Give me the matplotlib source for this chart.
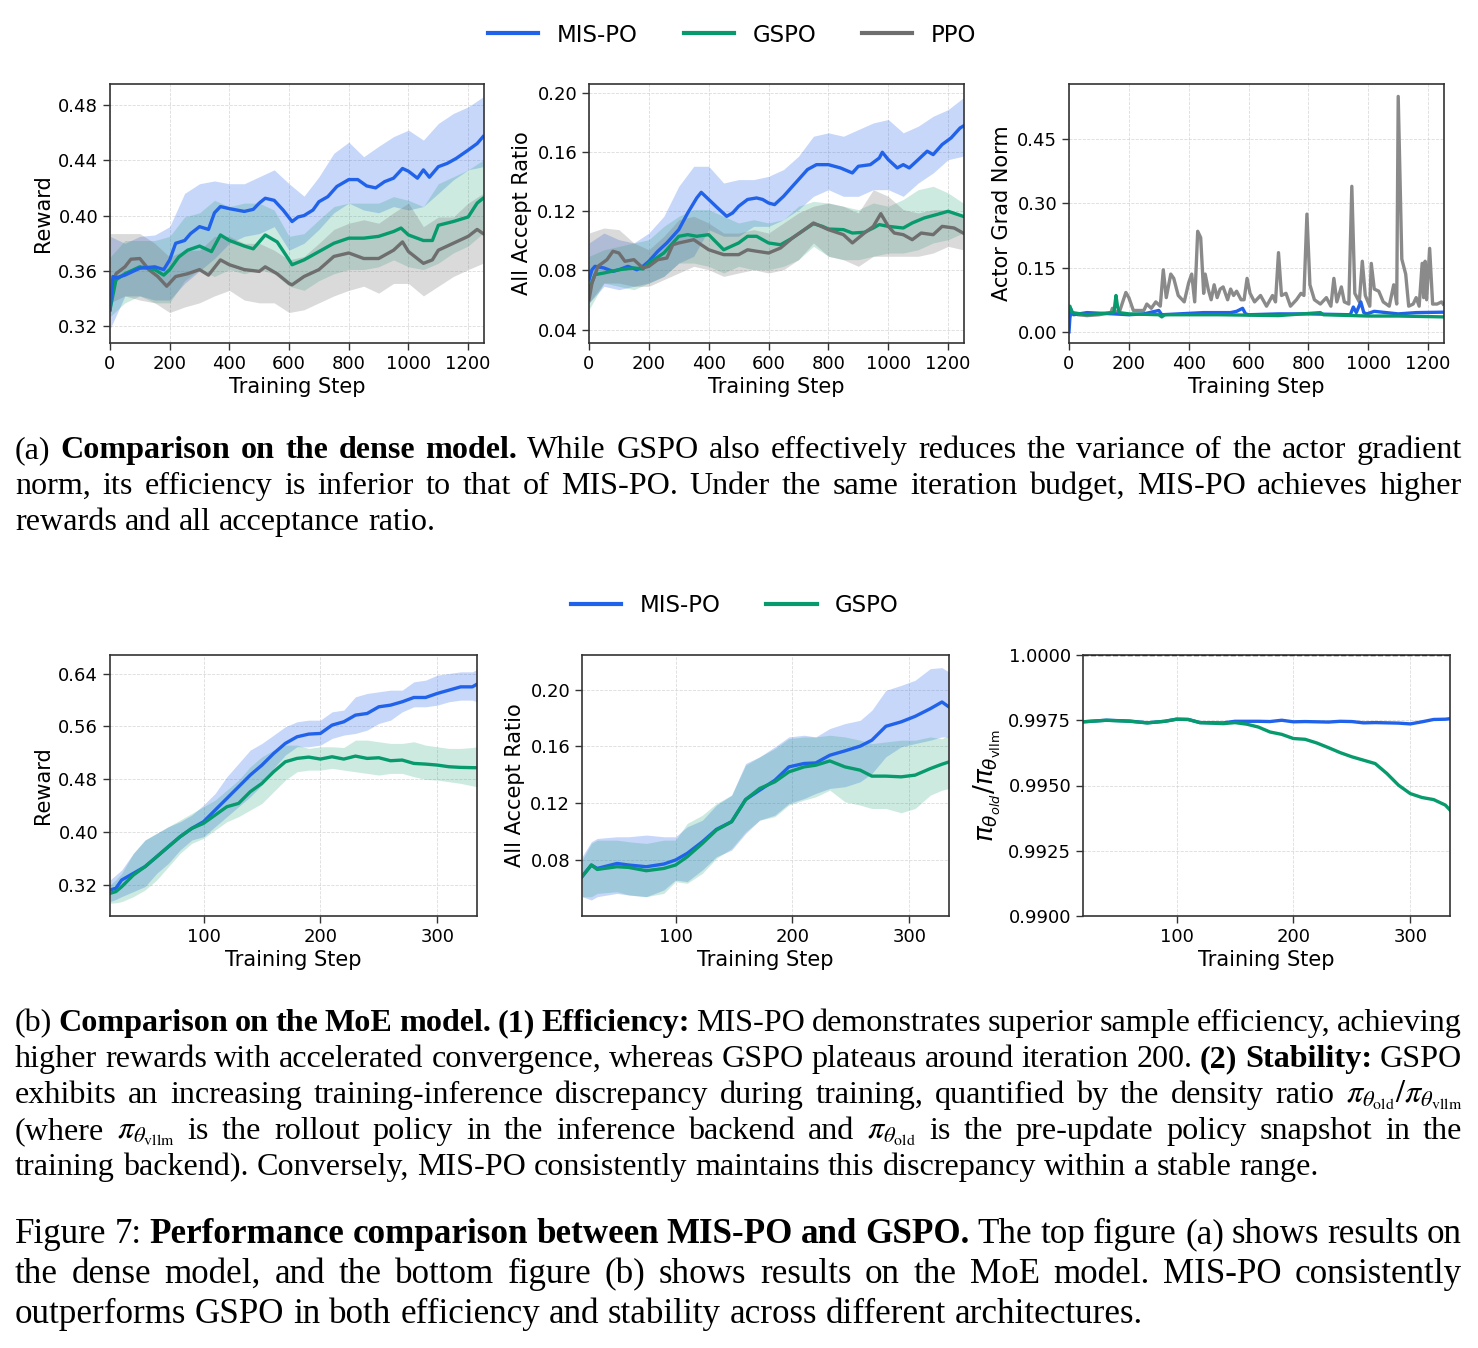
import matplotlib
matplotlib.use('Agg')
import matplotlib.pyplot as plt
from matplotlib.lines import Line2D
from matplotlib.transforms import IdentityTransform

W, H = 1478, 1348
BLUE = '#2162ea'
GREEN = '#079a6c'
GRAY = '#6e6e6e'
SERIF = 'Liberation Serif'

# ---------------- dense model: reward ----------------
band_x = [0, 50, 100, 150, 200, 250, 300, 350, 400, 450, 500, 550, 600, 650,
          700, 750, 800, 850, 900, 950, 1000, 1050, 1100, 1150, 1200, 1250]

rw_mis_x = [0, 10, 20, 50, 100, 150, 180, 200, 220, 250, 270, 300, 330, 350, 370, 400, 450, 480, 500, 520,
            550, 580, 610, 630, 650, 680, 700, 730, 760, 800, 830, 860, 890, 920, 950, 980, 1000, 1030, 1050, 1070,
            1100, 1130, 1160, 1200, 1230, 1250]
rw_mis = [0.332, 0.356, 0.355, 0.357, 0.362, 0.363, 0.361, 0.368, 0.380, 0.382, 0.387, 0.392, 0.390, 0.402, 0.4065,
          0.405, 0.403, 0.4045, 0.409, 0.4125, 0.411, 0.404, 0.3957, 0.399, 0.400, 0.404, 0.410, 0.4137, 0.421, 0.426,
          0.426, 0.4214, 0.420, 0.4245, 0.427, 0.434, 0.432, 0.427, 0.433, 0.4277, 0.4353, 0.4377, 0.4413, 0.4473,
          0.452, 0.457]
rw_mis_hi = [0.385, 0.380, 0.385, 0.386, 0.392, 0.416, 0.423, 0.425, 0.423, 0.423, 0.428, 0.433, 0.423, 0.414,
             0.428, 0.445, 0.453, 0.4425, 0.450, 0.457, 0.4617, 0.4545, 0.4665, 0.4737, 0.4785, 0.4857]
rw_mis_lo = [0.318, 0.342, 0.342, 0.339, 0.339, 0.351, 0.360, 0.369, 0.380, 0.385, 0.387, 0.392, 0.375, 0.380,
             0.390, 0.402, 0.409, 0.404, 0.402, 0.4065, 0.404, 0.4065, 0.416, 0.4257, 0.433, 0.4353]

rw_gspo_x = [0, 20, 50, 100, 150, 180, 200, 230, 260, 300, 340, 370, 400, 450, 480, 520, 560, 600, 610, 650,
             700, 750, 800, 850, 900, 950, 975, 1000, 1050, 1080, 1100, 1150, 1200, 1230, 1250]
rw_gspo = [0.332, 0.3536, 0.358, 0.363, 0.361, 0.357, 0.361, 0.370, 0.375, 0.378, 0.374, 0.386, 0.382, 0.378,
           0.376, 0.386, 0.381, 0.368, 0.3645, 0.368, 0.374, 0.380, 0.3837, 0.3837, 0.385, 0.3885, 0.391, 0.386,
           0.382, 0.382, 0.393, 0.3957, 0.399, 0.409, 0.4125]
rw_gspo_hi = [0.370, 0.382, 0.382, 0.382, 0.385, 0.399, 0.402, 0.411, 0.4065, 0.409, 0.409, 0.404, 0.385, 0.387,
              0.397, 0.4065, 0.409, 0.409, 0.409, 0.4137, 0.411, 0.4065, 0.423, 0.428, 0.433, 0.440]
rw_gspo_lo = [0.327, 0.337, 0.342, 0.337, 0.337, 0.353, 0.361, 0.356, 0.361, 0.358, 0.361, 0.358, 0.349, 0.346,
              0.353, 0.358, 0.361, 0.361, 0.363, 0.368, 0.363, 0.361, 0.3656, 0.373, 0.378, 0.3873]

rw_ppo_x = [0, 20, 50, 70, 100, 130, 160, 190, 220, 260, 300, 330, 370, 400, 450, 500, 520, 560, 600, 610,
            650, 700, 750, 800, 850, 900, 950, 980, 1000, 1050, 1080, 1100, 1150, 1200, 1230, 1250]
rw_ppo = [0.337, 0.358, 0.363, 0.3685, 0.369, 0.361, 0.356, 0.349, 0.356, 0.358, 0.361, 0.357, 0.368, 0.3645,
          0.361, 0.3597, 0.363, 0.358, 0.351, 0.350, 0.356, 0.361, 0.3705, 0.373, 0.369, 0.369, 0.375, 0.381,
          0.374, 0.3655, 0.368, 0.375, 0.380, 0.385, 0.390, 0.387]
rw_ppo_hi = [0.387, 0.387, 0.387, 0.380, 0.370, 0.375, 0.375, 0.385, 0.385, 0.380, 0.380, 0.375, 0.368, 0.3705,
             0.380, 0.390, 0.3945, 0.397, 0.3945, 0.402, 0.409, 0.392, 0.399, 0.399, 0.409, 0.416]
rw_ppo_lo = [0.337, 0.342, 0.339, 0.337, 0.330, 0.334, 0.337, 0.342, 0.346, 0.339, 0.337, 0.337, 0.330, 0.332,
             0.337, 0.342, 0.346, 0.349, 0.344, 0.351, 0.351, 0.342, 0.349, 0.356, 0.361, 0.3656]

# ---------------- dense model: all accept ratio ----------------
ar_mis_x = [0, 10, 20, 50, 80, 100, 130, 160, 180, 200, 230, 260, 300, 330, 360, 375, 400, 430, 460, 480,
            500, 530, 560, 580, 600, 620, 650, 680, 700, 730, 760, 800, 840, 880, 900, 940, 970, 980, 1000, 1030,
            1050, 1070, 1100, 1130, 1150, 1180, 1210, 1240, 1250]
ar_mis = [0.0738, 0.0805, 0.0828, 0.0817, 0.0794, 0.0805, 0.0828, 0.0805, 0.0828, 0.0862, 0.093, 0.0986, 0.1076,
          0.1189, 0.129, 0.1328, 0.128, 0.1222, 0.1166, 0.1189, 0.1234, 0.128, 0.129, 0.128, 0.1256, 0.1245,
          0.1301, 0.1369, 0.1414, 0.1482, 0.1515, 0.1515, 0.1493, 0.1459, 0.1504, 0.1515, 0.156, 0.1599, 0.1549,
          0.1493, 0.1515, 0.1493, 0.1549, 0.1606, 0.1583, 0.1651, 0.1696, 0.1763, 0.1775]
ar_mis_hi = [0.0986, 0.1053, 0.1008, 0.0986, 0.1053, 0.1166, 0.1369, 0.1504, 0.1504, 0.1391, 0.1414, 0.1414,
             0.1436, 0.1482, 0.1572, 0.1707, 0.173, 0.1707, 0.1752, 0.1797, 0.182, 0.173, 0.1775, 0.1842, 0.1887,
             0.1966]
ar_mis_lo = [0.058, 0.0693, 0.067, 0.0693, 0.0715, 0.076, 0.085, 0.0896, 0.1076, 0.1031, 0.1031, 0.1098, 0.1098,
             0.1143, 0.1211, 0.1301, 0.1346, 0.1301, 0.1301, 0.1346, 0.1346, 0.1301, 0.1391, 0.1459, 0.1549, 0.1572]

ar_gspo_x = [0, 20, 50, 100, 150, 180, 200, 250, 300, 330, 360, 400, 450, 500, 530, 560, 600, 640, 680, 720,
             750, 780, 800, 850, 880, 920, 950, 970, 1000, 1050, 1080, 1120, 1160, 1200, 1250]
ar_gspo = [0.067, 0.0772, 0.0783, 0.0805, 0.0817, 0.081, 0.085, 0.0918, 0.1031, 0.1042, 0.1031, 0.1042, 0.094,
           0.0986, 0.1031, 0.1031, 0.0986, 0.0974, 0.102, 0.1076, 0.1116, 0.1098, 0.108, 0.1076, 0.1053, 0.1058,
           0.1087, 0.111, 0.1098, 0.1087, 0.1121, 0.1155, 0.1177, 0.12, 0.1166]
ar_gspo_hi = [0.0896, 0.094, 0.0963, 0.0986, 0.1008, 0.1098, 0.1166, 0.1211, 0.1211, 0.1166, 0.1121, 0.1143,
              0.1121, 0.1143, 0.1234, 0.1267, 0.1256, 0.1234, 0.1211, 0.1256, 0.1234, 0.128, 0.1346, 0.1369,
              0.1324, 0.1256]
ar_gspo_lo = [0.0535, 0.0715, 0.0693, 0.067, 0.0715, 0.076, 0.085, 0.085, 0.0828, 0.0783, 0.0828, 0.0805, 0.0805,
              0.0828, 0.0873, 0.0963, 0.0896, 0.0873, 0.0873, 0.0896, 0.0918, 0.0918, 0.094, 0.0986, 0.1008, 0.1053]

ar_ppo_x = [0, 10, 30, 60, 80, 100, 120, 150, 180, 200, 230, 260, 280, 300, 350, 400, 450, 500, 530, 560,
            600, 640, 680, 720, 750, 800, 850, 880, 920, 950, 975, 1000, 1020, 1050, 1080, 1110, 1150, 1180,
            1220, 1250]
ar_ppo = [0.0603, 0.0715, 0.0828, 0.0873, 0.093, 0.0918, 0.0862, 0.0873, 0.0817, 0.0828, 0.0873, 0.0884, 0.0974,
          0.0986, 0.1008, 0.094, 0.0907, 0.0907, 0.094, 0.093, 0.0918, 0.0952, 0.102, 0.1076, 0.1121, 0.1076,
          0.1042, 0.0986, 0.1053, 0.1098, 0.1184, 0.1098, 0.1053, 0.1042, 0.1008, 0.1053, 0.1042, 0.1098, 0.1087,
          0.1053]
ar_ppo_hi = [0.1053, 0.1087, 0.1076, 0.0986, 0.094, 0.1031, 0.1143, 0.1166, 0.1121, 0.1053, 0.1053, 0.1076,
             0.1053, 0.1121, 0.1189, 0.1234, 0.1256, 0.1234, 0.1189, 0.1346, 0.1301, 0.1211, 0.1189, 0.1211,
             0.1211, 0.1166]
ar_ppo_lo = [0.058, 0.0715, 0.0715, 0.0693, 0.0693, 0.0738, 0.0783, 0.0828, 0.0805, 0.076, 0.0783, 0.0805,
             0.0783, 0.0805, 0.0873, 0.0986, 0.0896, 0.0873, 0.0828, 0.0896, 0.0896, 0.0896, 0.0896, 0.0918,
             0.0963, 0.094]

# ---------------- dense model: actor grad norm ----------------
gn_ppo_x = [3, 10, 30, 60, 100, 140, 145, 160, 170, 190, 200, 215, 250, 260, 275, 290, 305, 315, 325, 340,
            350, 365, 385, 400, 410, 420, 430, 440, 450, 455, 465, 475, 485, 495, 505, 515, 530, 540, 550, 560,
            575, 585, 595, 605, 620, 640, 660, 680, 690, 700, 710, 725, 740, 760, 775, 785, 795, 805, 820, 840,
            860, 875, 885, 895, 910, 920, 935, 945, 955, 970, 980, 990, 1005, 1010, 1020, 1035, 1050, 1070, 1085,
            1095, 1100, 1112, 1125, 1135, 1150, 1160, 1170, 1180, 1185, 1190, 1195, 1205, 1215, 1230, 1245, 1250]
gn_ppo = [0.036, 0.045, 0.04, 0.038, 0.04, 0.045, 0.055, 0.045, 0.05, 0.092,
          0.08, 0.05, 0.05, 0.065, 0.055, 0.07, 0.06, 0.145, 0.08, 0.135,
          0.125, 0.085, 0.07, 0.115, 0.135, 0.07, 0.235, 0.22, 0.09, 0.135,
          0.10, 0.075, 0.11, 0.08, 0.10, 0.105, 0.075, 0.10, 0.085, 0.095,
          0.075, 0.075, 0.125, 0.09, 0.07, 0.085, 0.06, 0.085, 0.07, 0.185,
          0.085, 0.09, 0.06, 0.075, 0.09, 0.085, 0.275, 0.11, 0.075, 0.065,
          0.08, 0.06, 0.125, 0.07, 0.105, 0.07, 0.065, 0.34, 0.09, 0.07,
          0.165, 0.085, 0.06, 0.16, 0.10, 0.095, 0.07, 0.06, 0.11, 0.065,
          0.55, 0.17, 0.135, 0.06, 0.065, 0.08, 0.06, 0.16, 0.08, 0.165,
          0.075, 0.195, 0.065, 0.065, 0.07, 0.065]
gn_mis_x = [0, 5, 15, 60, 150, 200, 250, 300, 310, 450, 540, 560, 580, 590, 600, 700, 800, 940, 950, 960,
            975, 985, 995, 1020, 1100, 1160, 1250]
gn_mis = [0.0, 0.055, 0.04, 0.045, 0.042, 0.04, 0.042, 0.05, 0.04, 0.045, 0.045, 0.048, 0.055, 0.042, 0.04,
          0.042, 0.042, 0.04, 0.058, 0.045, 0.07, 0.045, 0.042, 0.048, 0.042, 0.045, 0.046]
gn_gspo_x = [0, 3, 10, 60, 150, 157, 162, 168, 200, 300, 310, 320, 500, 700, 840, 850, 1000, 1100, 1250]
gn_gspo = [0.06, 0.06, 0.045, 0.04, 0.045, 0.085, 0.06, 0.045, 0.042, 0.04, 0.035, 0.04, 0.04, 0.038, 0.045,
           0.04, 0.037, 0.037, 0.035]

# ---------------- MoE model: reward ----------------
mr_x = [20, 25, 30, 40, 50, 60, 70, 80, 90, 100, 110, 120, 130, 140, 150, 160, 170, 180, 190, 200,
        210, 220, 230, 240, 250, 260, 270, 280, 290, 300, 310, 320, 330, 334]
mr_mis = [0.3124, 0.315, 0.3275, 0.3376, 0.3477, 0.3628, 0.378, 0.393, 0.4056, 0.4157, 0.4334, 0.451, 0.4686,
          0.4863, 0.5014, 0.519, 0.5342, 0.5442, 0.5483, 0.5493, 0.5619, 0.5669, 0.577, 0.5795, 0.5896, 0.5921,
          0.5972, 0.6037, 0.6037, 0.6098, 0.6148, 0.6198, 0.6198, 0.6239]
mr_mis_hi = [0.3275, 0.335, 0.3427, 0.3678, 0.388, 0.3981, 0.4082, 0.4157, 0.4258, 0.4409, 0.4586, 0.4838,
             0.5039, 0.5241, 0.5342, 0.5467, 0.5594, 0.5669, 0.5694, 0.5694, 0.582, 0.5846, 0.6047, 0.6098,
             0.6123, 0.6148, 0.6148, 0.6274, 0.6299, 0.6375, 0.64, 0.6425, 0.6425, 0.646]
mr_mis_lo = [0.2947, 0.298, 0.3023, 0.3099, 0.3175, 0.3376, 0.3527, 0.3729, 0.388, 0.393, 0.4082, 0.4233,
             0.4384, 0.4535, 0.4712, 0.4964, 0.5165, 0.5291, 0.5291, 0.5316, 0.5417, 0.5468, 0.5493, 0.5543,
             0.5644, 0.5694, 0.582, 0.5896, 0.5896, 0.5921, 0.5972, 0.5997, 0.5997, 0.5972]
mr_gspo = [0.3073, 0.3099, 0.3174, 0.335, 0.3477, 0.3628, 0.378, 0.393, 0.4056, 0.4132, 0.4258, 0.4384, 0.4434,
           0.4611, 0.4737, 0.4913, 0.5064, 0.5115, 0.5135, 0.5105, 0.514, 0.5105, 0.515, 0.5115, 0.5125, 0.508,
           0.509, 0.5039, 0.5029, 0.5014, 0.4989, 0.4979, 0.4975, 0.4974]
mr_gspo_hi = [0.32, 0.328, 0.3376, 0.3678, 0.388, 0.3981, 0.4082, 0.4182, 0.4283, 0.4384, 0.4485, 0.4636,
              0.4787, 0.4989, 0.514, 0.5241, 0.5316, 0.5316, 0.5266, 0.5291, 0.5291, 0.528, 0.5392, 0.5392,
              0.5367, 0.5342, 0.5342, 0.5367, 0.5316, 0.5291, 0.5266, 0.5266, 0.528, 0.5291]
mr_gspo_lo = [0.2922, 0.293, 0.2947, 0.3023, 0.3124, 0.3275, 0.3477, 0.3678, 0.383, 0.3905, 0.4031, 0.4157,
              0.4233, 0.4334, 0.4434, 0.4611, 0.4787, 0.4913, 0.4938, 0.4938, 0.4964, 0.4938, 0.4913, 0.4888,
              0.4863, 0.4888, 0.4888, 0.4838, 0.4797, 0.4787, 0.4762, 0.4737, 0.47, 0.4686]

# ---------------- MoE model: all accept ratio ----------------
ma_x = [20, 28, 33, 50, 60, 75, 90, 100, 110, 123, 135, 148, 160, 172, 185, 197, 210, 220, 232, 245,
        258, 268, 280, 293, 305, 318, 328, 334]
ma_mis = [0.0683, 0.0765, 0.0741, 0.0776, 0.0765, 0.0753, 0.0772, 0.08, 0.0847, 0.0929, 0.1016, 0.107, 0.1226,
          0.1292, 0.1362, 0.1456, 0.148, 0.1484, 0.1538, 0.1569, 0.1602, 0.1644, 0.1742, 0.1773, 0.1812, 0.1866,
          0.1913, 0.1878]
ma_mis_hi = [0.0823, 0.0929, 0.0952, 0.0964, 0.0964, 0.0976, 0.0964, 0.0964, 0.1034, 0.1081, 0.1187, 0.1257,
             0.148, 0.1527, 0.1597, 0.1667, 0.1679, 0.1667, 0.1726, 0.1761, 0.1784, 0.1855, 0.1995, 0.203,
             0.2066, 0.2148, 0.2155, 0.2124]
ma_mis_lo = [0.0542, 0.0519, 0.0542, 0.0565, 0.0554, 0.0542, 0.0589, 0.0659, 0.0648, 0.073, 0.0823, 0.087,
             0.0987, 0.1081, 0.1116, 0.1198, 0.1233, 0.1269, 0.1304, 0.1316, 0.1351, 0.1409, 0.1527, 0.1597,
             0.162, 0.1644, 0.1667, 0.1667]
ma_gspo = [0.0683, 0.0765, 0.0734, 0.0753, 0.0748, 0.0725, 0.0741, 0.0765, 0.0823, 0.0917, 0.1011, 0.107,
           0.1226, 0.1304, 0.1351, 0.1421, 0.1456, 0.1468, 0.1498, 0.1456, 0.1433, 0.1391, 0.1391, 0.1386,
           0.1398, 0.1444, 0.1475, 0.1491]
ma_gspo_hi = [0.08, 0.0917, 0.094, 0.094, 0.0929, 0.0917, 0.094, 0.094, 0.1058, 0.1116, 0.1198, 0.1257, 0.1468,
              0.1527, 0.1585, 0.1655, 0.1667, 0.1667, 0.1679, 0.1667, 0.1644, 0.162, 0.1632, 0.1644, 0.1644,
              0.1667, 0.1655, 0.1679]
ma_gspo_lo = [0.0542, 0.0542, 0.0565, 0.0577, 0.0554, 0.0542, 0.0565, 0.0648, 0.0636, 0.0706, 0.0812, 0.0882,
              0.0999, 0.1081, 0.1105, 0.1187, 0.1222, 0.1245, 0.1292, 0.121, 0.1187, 0.1163, 0.1163, 0.1133,
              0.1163, 0.1257, 0.1292, 0.1304]

# ---------------- MoE model: density ratio ----------------
dr_x = [20, 40, 60, 75, 90, 100, 110, 120, 140, 150, 160, 170, 180, 190, 200, 210, 220, 230, 240, 250,
        260, 270, 280, 290, 300, 310, 320, 330, 334]
dr_mis = [0.99744, 0.9975, 0.99747, 0.9974, 0.99746, 0.99754, 0.99753, 0.99741, 0.9974, 0.99746, 0.99746,
          0.99746, 0.99745, 0.9975, 0.99744, 0.99745, 0.99744, 0.99743, 0.99746, 0.99745, 0.9974, 0.99741,
          0.9974, 0.99739, 0.99736, 0.99744, 0.99753, 0.99754, 0.99756]
dr_gspo = [0.99744, 0.9975, 0.99746, 0.9974, 0.99746, 0.99754, 0.99753, 0.99741, 0.99737, 0.99741, 0.99735,
           0.99724, 0.99705, 0.99696, 0.9968, 0.99677, 0.99663, 0.99645, 0.99626, 0.9961, 0.99597, 0.99584,
           0.99546, 0.99501, 0.99469, 0.99454, 0.99446, 0.99425, 0.99406]

fig = plt.figure(figsize=(W / 100, H / 100), dpi=100)


def add_ax(l, t, r, b):
    # pixel box -> figure fraction
    return fig.add_axes([l / W, 1 - b / H, (r - l) / W, (b - t) / H])


def style(ax, xlim, ylim, xt, yt, fmt, ylabel, ylsize=15):
    ax.set_xlim(*xlim)
    ax.set_ylim(*ylim)
    ax.set_xticks(xt)
    ax.set_yticks(yt)
    ax.set_yticklabels([fmt % v for v in yt])
    ax.tick_params(labelsize=13, length=5, width=1, color='#333333')
    for s in ax.spines.values():
        s.set_color('#333333')
        s.set_linewidth(1.2)
    ax.grid(True, ls='--', lw=0.6, color='#cccccc', alpha=0.7)
    ax.set_axisbelow(True)
    ax.set_xlabel('Training Step', fontsize=15, labelpad=3)
    ax.set_ylabel(ylabel, fontsize=ylsize)


LW = 2.4

# top row
a1 = add_ax(110, 84, 484, 343)
a1.fill_between(band_x, rw_mis_lo, rw_mis_hi, color=BLUE, alpha=0.25, lw=0)
a1.fill_between(band_x, rw_gspo_lo, rw_gspo_hi, color=GREEN, alpha=0.2, lw=0)
a1.fill_between(band_x, rw_ppo_lo, rw_ppo_hi, color=GRAY, alpha=0.25, lw=0)
a1.plot(rw_ppo_x, rw_ppo, color=GRAY, lw=LW)
a1.plot(rw_gspo_x, rw_gspo, color=GREEN, lw=LW)
a1.plot(rw_mis_x, rw_mis, color=BLUE, lw=LW)
style(a1, (0, 1253), (0.308, 0.495), [0, 200, 400, 600, 800, 1000, 1200],
      [0.32, 0.36, 0.40, 0.44, 0.48], '%.2f', 'Reward')

a2 = add_ax(589, 84, 964, 343)
a2.fill_between(band_x, ar_mis_lo, ar_mis_hi, color=BLUE, alpha=0.25, lw=0)
a2.fill_between(band_x, ar_gspo_lo, ar_gspo_hi, color=GREEN, alpha=0.2, lw=0)
a2.fill_between(band_x, ar_ppo_lo, ar_ppo_hi, color=GRAY, alpha=0.25, lw=0)
a2.plot(ar_mis_x, ar_mis, color=BLUE, lw=LW)
a2.plot(ar_gspo_x, ar_gspo, color=GREEN, lw=LW)
a2.plot(ar_ppo_x, ar_ppo, color=GRAY, lw=LW)
style(a2, (0, 1253), (0.031, 0.206), [0, 200, 400, 600, 800, 1000, 1200],
      [0.04, 0.08, 0.12, 0.16, 0.20], '%.2f', 'All Accept Ratio')

a3 = add_ax(1069, 84, 1444, 343)
a3.plot(gn_ppo_x, gn_ppo, color='#8a8a8a', lw=LW)
a3.plot(gn_mis_x, gn_mis, color=BLUE, lw=LW)
a3.plot(gn_gspo_x, gn_gspo, color=GREEN, lw=LW)
style(a3, (0, 1253), (-0.026, 0.579), [0, 200, 400, 600, 800, 1000, 1200],
      [0.0, 0.15, 0.30, 0.45], '%.2f', 'Actor Grad Norm')

# bottom row
b1 = add_ax(110, 655, 477, 916)
b1.fill_between(mr_x, mr_mis_lo, mr_mis_hi, color=BLUE, alpha=0.25, lw=0)
b1.fill_between(mr_x, mr_gspo_lo, mr_gspo_hi, color=GREEN, alpha=0.2, lw=0)
b1.plot(mr_x, mr_mis, color=BLUE, lw=LW)
b1.plot(mr_x, mr_gspo, color=GREEN, lw=LW)
style(b1, (20, 334), (0.273, 0.668), [100, 200, 300],
      [0.32, 0.40, 0.48, 0.56, 0.64], '%.2f', 'Reward')

b2 = add_ax(582, 655, 949, 916)
b2.fill_between(ma_x, ma_mis_lo, ma_mis_hi, color=BLUE, alpha=0.25, lw=0)
b2.fill_between(ma_x, ma_gspo_lo, ma_gspo_hi, color=GREEN, alpha=0.2, lw=0)
b2.plot(ma_x, ma_mis, color=BLUE, lw=LW)
b2.plot(ma_x, ma_gspo, color=GREEN, lw=LW)
style(b2, (20, 334), (0.0406, 0.2244), [100, 200, 300],
      [0.08, 0.12, 0.16, 0.20], '%.2f', 'All Accept Ratio')

b3 = add_ax(1083, 655, 1450, 916)
b3.axhline(1.0, ls='--', color='k', lw=1)
b3.plot(dr_x, dr_mis, color=BLUE, lw=LW)
b3.plot(dr_x, dr_gspo, color=GREEN, lw=LW)
style(b3, (20, 334), (0.99, 1.0), [100, 200, 300],
      [0.99, 0.9925, 0.995, 0.9975, 1.0], '%.4f',
      r'$\pi_{\theta_{old}}/\pi_{\theta_{\mathrm{vllm}}}$', ylsize=19)

# legends
h3 = [Line2D([], [], color=BLUE, lw=3, label='MIS-PO'),
      Line2D([], [], color=GREEN, lw=3, label='GSPO'),
      Line2D([], [], color=GRAY, lw=3, label='PPO')]
kw = dict(loc='center', frameon=False, fontsize=16.5, handlelength=2.2,
          handletextpad=0.8, columnspacing=2.0)
fig.legend(handles=h3, ncol=3, bbox_to_anchor=(732 / W, 1 - 35 / H), **kw)
fig.legend(handles=h3[:2], ncol=2, bbox_to_anchor=(735 / W, 1 - 606 / H), **kw)

# captions, justified word by word
rend = fig.canvas.get_renderer()
X0, X1 = 15, 1462


def cap_line(y, parts, size, justify=True):
    words = []
    for txt, kind in parts:
        if kind == 'm':
            words.append((txt, kind))
        else:
            words += [(w, kind) for w in txt.split()]
    arts = []
    for w, kind in words:
        arts.append(fig.text(0, 0, w, fontsize=size, family=SERIF,
                             weight='bold' if kind == 'b' else 'normal',
                             va='baseline', ha='left', transform=IdentityTransform(),
                             math_fontfamily='stix'))
    widths = [a.get_window_extent(rend).width for a in arts]
    if justify:
        gap = (X1 - X0 - sum(widths)) / (len(arts) - 1)
    else:
        gap = size * 0.25 * 100 / 72
    x = X0
    for a, w in zip(arts, widths):
        a.set_position((x, H - y))
        x += w + gap


S1 = 23.1
S2 = 25.2
ratio = r'$\pi_{\theta_{\mathrm{old}}}/\pi_{\theta_{\mathrm{vllm}}}$'
pv = r'$\pi_{\theta_{\mathrm{vllm}}}$'
po = r'$\pi_{\theta_{\mathrm{old}}}$'

cap_line(458, [('(a)', 'n'), ('Comparison on the dense model.', 'b'),
               ('While GSPO also effectively reduces the variance of the actor gradient', 'n')], S1)
cap_line(494, [('norm, its efficiency is inferior to that of MIS-PO. Under the same iteration budget, '
                'MIS-PO achieves higher', 'n')], S1)
cap_line(530, [('rewards and all acceptance ratio.', 'n')], S1, justify=False)

cap_line(1031, [('(b)', 'n'), ('Comparison on the MoE model. (1) Efficiency:', 'b'),
                ('MIS-PO demonstrates superior sample efficiency, achieving', 'n')], S1)
cap_line(1067, [('higher rewards with accelerated convergence, whereas GSPO plateaus around iteration 200.', 'n'),
                ('(2) Stability:', 'b'), ('GSPO', 'n')], S1)
cap_line(1103, [('exhibits an increasing training-inference discrepancy during training, quantified by the '
                 'density ratio', 'n'), (ratio, 'm')], S1)
cap_line(1139, [('(where', 'n'), (pv, 'm'), ('is the rollout policy in the inference backend and', 'n'),
                (po, 'm'), ('is the pre-update policy snapshot in the', 'n')], S1)
cap_line(1175, [('training backend). Conversely, MIS-PO consistently maintains this discrepancy within a '
                 'stable range.', 'n')], S1, justify=False)

cap_line(1243, [('Figure 7:', 'n'), ('Performance comparison between MIS-PO and GSPO.', 'b'),
                ('The top figure (a) shows results on', 'n')], S2)
cap_line(1283, [('the dense model, and the bottom figure (b) shows results on the MoE model. '
                 'MIS-PO consistently', 'n')], S2)
cap_line(1323, [('outperforms GSPO in both efficiency and stability across different architectures.', 'n')],
         S2, justify=False)

fig.savefig('out.png', dpi=100)
